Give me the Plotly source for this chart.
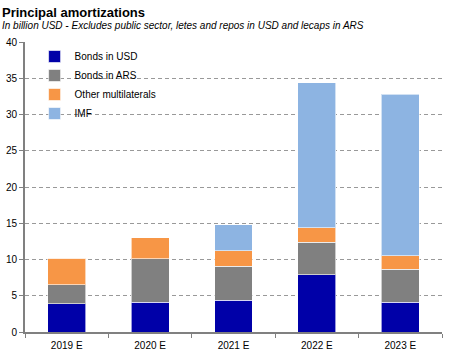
import plotly.graph_objects as go

categories = ["2019 E", "2020 E", "2021 E", "2022 E", "2023 E"]
bonds_usd = [3.9, 4.1, 4.4, 7.9, 4.1]
bonds_ars = [2.6, 6.0, 4.7, 4.5, 4.55]
other_multi = [3.7, 2.9, 2.1, 1.95, 1.85]
imf = [0.0, 0.0, 3.6, 20.05, 22.3]
y_ticks = [0, 5, 10, 15, 20, 25, 30, 35, 40]

series = [
    ("Bonds in USD", bonds_usd, "#0000A8"),
    ("Bonds in ARS", bonds_ars, "#808080"),
    ("Other multilaterals", other_multi, "#F79646"),
    ("IMF", imf, "#8DB4E2"),
]

fig = go.Figure()
for name, vals, col in series:
    fig.add_trace(go.Bar(
        x=categories, y=vals, name=name,
        marker=dict(color=col, line=dict(color="rgba(255,255,255,0.6)", width=1)),
    ))

fig.update_layout(
    barmode="stack",
    bargap=0.545,
    width=451, height=354,
    margin=dict(l=25, r=9, t=42, b=22, autoexpand=False),
    paper_bgcolor="white", plot_bgcolor="white",
    font=dict(family="Liberation Sans, Arial, sans-serif", size=10, color="black"),
    showlegend=True,
    legend=dict(
        x=0.023, y=1.0, xanchor="left", yanchor="top",
        traceorder="normal", bgcolor="rgba(0,0,0,0)",
        font=dict(size=10), itemwidth=30,
    ),
    annotations=[
        dict(text="<b>Principal amortizations</b>", xref="paper", yref="paper",
             x=-25/417, y=1 + 30/290, xanchor="left", yanchor="middle",
             showarrow=False, font=dict(size=13)),
        dict(text="<i>In billion USD - Excludes public sector, letes and repos in USD and lecaps in ARS</i>",
             xref="paper", yref="paper", x=-25/417, y=1 + 17/290,
             xanchor="left", yanchor="middle", showarrow=False, font=dict(size=10)),
    ],
)
fig.update_yaxes(
    range=[0, 40], tickvals=y_ticks, showgrid=True, gridcolor="#999999",
    griddash="4px,3px", gridwidth=1, showline=True, linecolor="#808080", linewidth=2,
    ticks="outside", ticklen=4, tickcolor="#808080", zeroline=False, automargin=False,
)
fig.update_xaxes(
    showline=True, linecolor="#808080", linewidth=2, ticks="outside",
    tickson="boundaries", ticklen=4, tickcolor="#808080", showgrid=False,
    ticklabelstandoff=3, automargin=False,
)
fig.write_html("out.html")
